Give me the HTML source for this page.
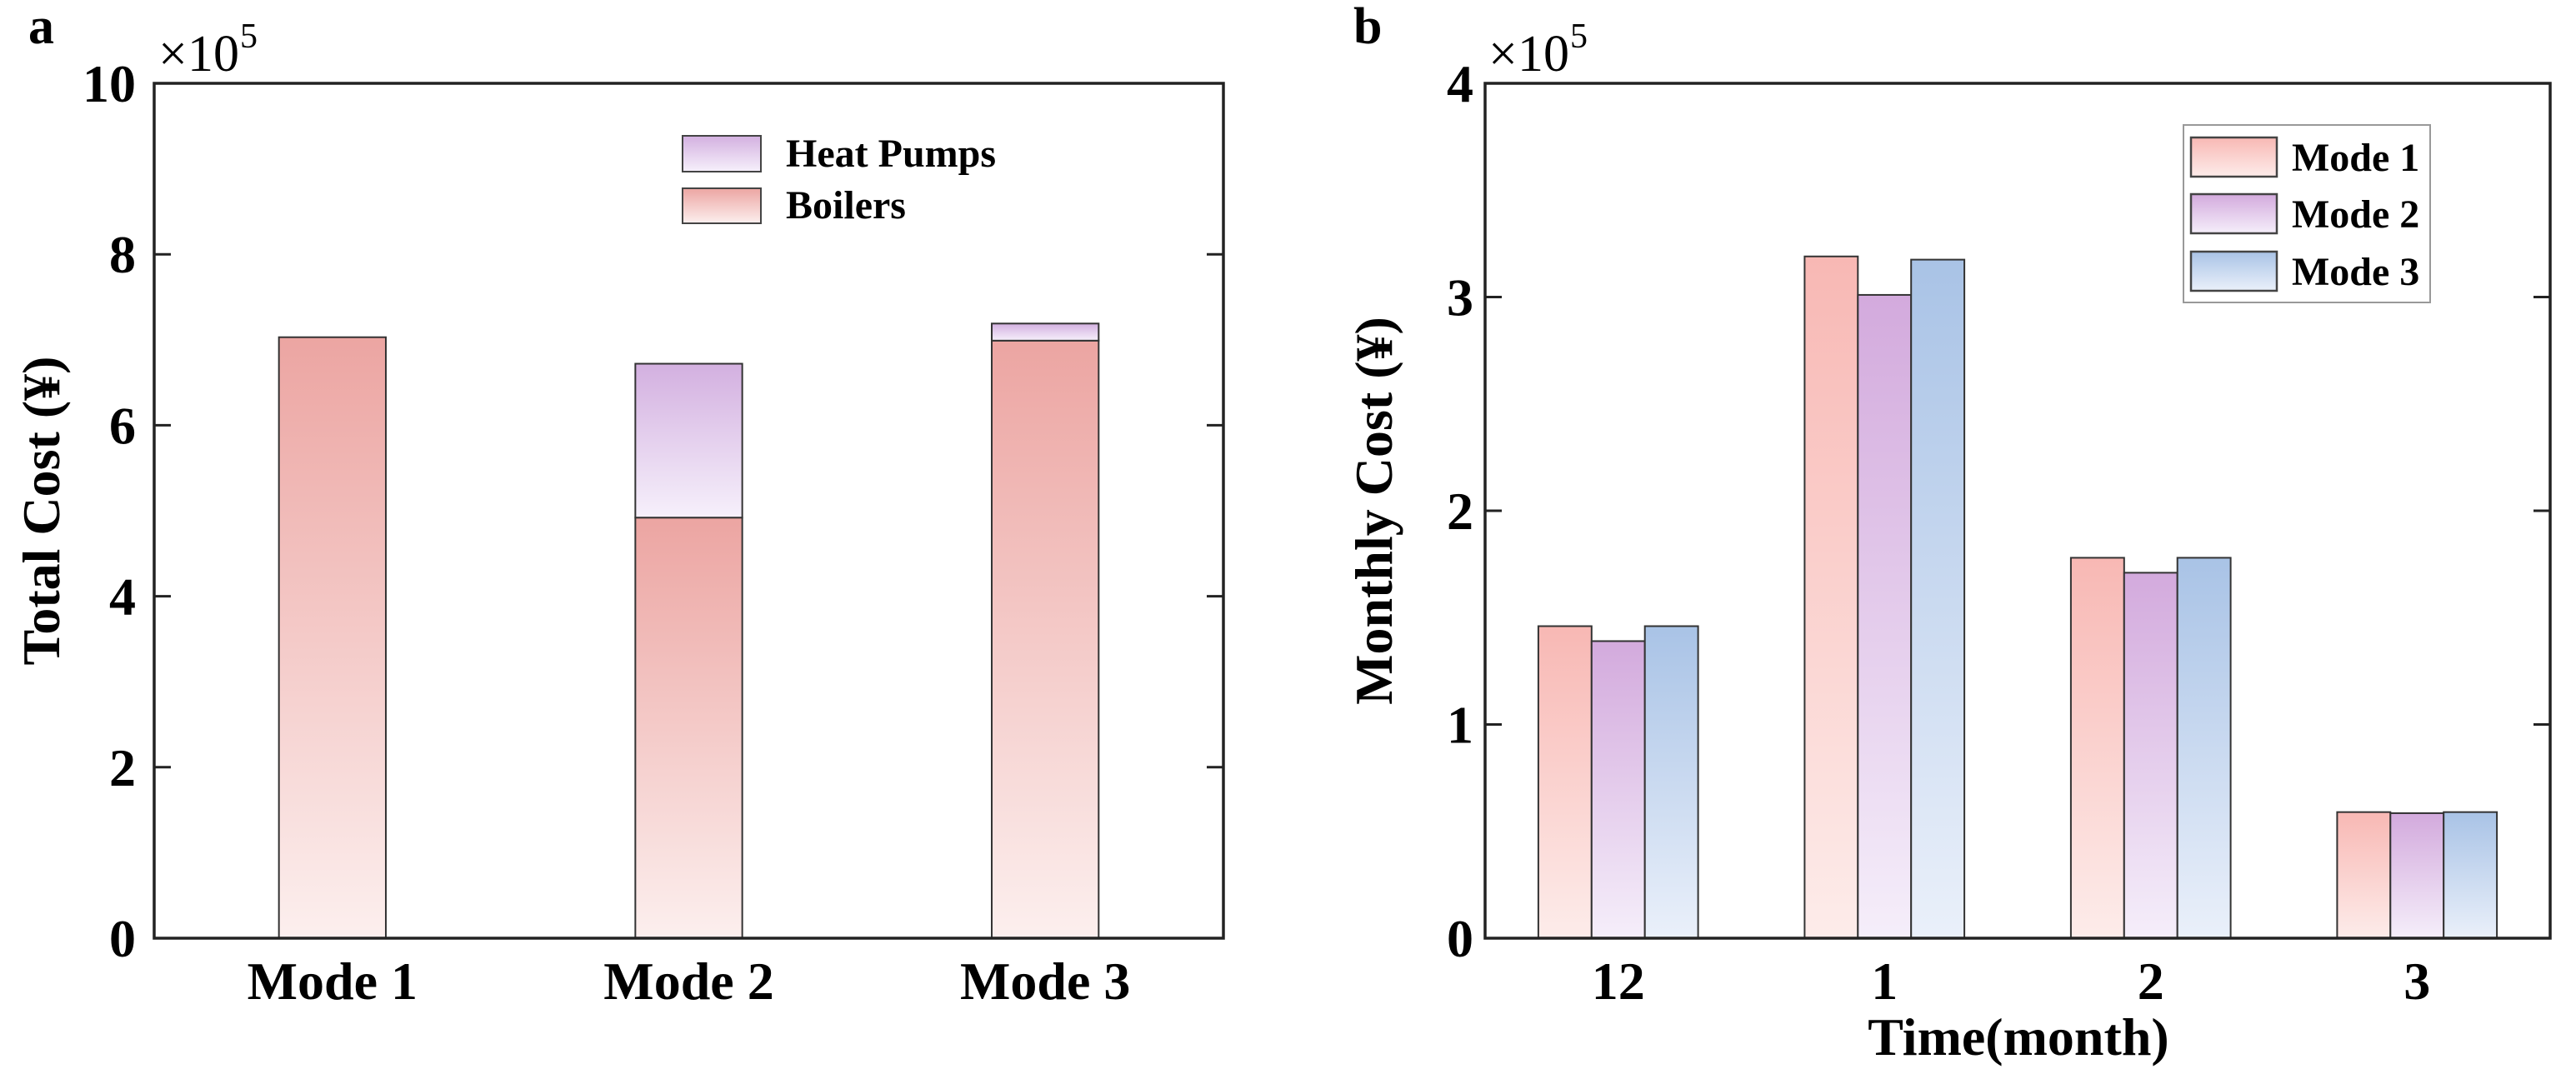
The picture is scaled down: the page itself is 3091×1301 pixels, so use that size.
<!DOCTYPE html>
<html><head><meta charset="utf-8"><style>
html,body{margin:0;padding:0;background:#fff;}
svg{display:block;font-family:"Liberation Serif",serif;}
</style></head><body>
<svg id="chart" width="3091" height="1301" viewBox="0 0 3091 1301" xmlns="http://www.w3.org/2000/svg">
<defs>
<linearGradient id="gPinkA" x1="0" y1="0" x2="0" y2="1"><stop offset="0" stop-color="#eca5a2"/><stop offset="1" stop-color="#fcefee"/></linearGradient>
<linearGradient id="gPurpA" x1="0" y1="0" x2="0" y2="1"><stop offset="0" stop-color="#d3b0e0"/><stop offset="1" stop-color="#f6f0fb"/></linearGradient>
<linearGradient id="gPink" x1="0" y1="0" x2="0" y2="1"><stop offset="0" stop-color="#f8b8b4"/><stop offset="1" stop-color="#fdecea"/></linearGradient>
<linearGradient id="gPurp" x1="0" y1="0" x2="0" y2="1"><stop offset="0" stop-color="#d3aadd"/><stop offset="1" stop-color="#f5eefa"/></linearGradient>
<linearGradient id="gBlue" x1="0" y1="0" x2="0" y2="1"><stop offset="0" stop-color="#a9c3e6"/><stop offset="1" stop-color="#eaf0fa"/></linearGradient>
</defs>
<g id="pa"></g>
<g id="pb"></g>
</svg>
<script>
const modesA = ["Mode 1","Mode 2","Mode 3"];
const boilersA = [7.03, 4.92, 6.99];
const heatPumpsA = [0.0, 1.80, 0.20];
const yTicksA = [0,2,4,6,8,10];

const monthsB = ["12","1","2","3"];
const mode1B = [1.46, 3.19, 1.78, 0.59];
const mode2B = [1.39, 3.01, 1.71, 0.585];
const mode3B = [1.46, 3.175, 1.78, 0.59];
const yTicksB = [0,1,2,3,4];

const NS="http://www.w3.org/2000/svg";
function mk(parent, tag, attrs, text){
  const e=document.createElementNS(NS,tag);
  for(const k in attrs) e.setAttribute(k,attrs[k]);
  if(text!==undefined) e.textContent=text;
  parent.appendChild(e); return e;
}
const T=100, B=1126;

// ---------- Panel a ----------
(function(){
  const g=document.getElementById('pa');
  const L=185, R=1468, ymax=10;
  const y=v=>B-(B-T)*v/ymax;
  const step=(R-L)/modesA.length;
  const cx=i=>L+step*(i+0.5);
  const bw=step*0.3;
  modesA.forEach((m,i)=>{
    const b=mk(g,'rect',{x:cx(i)-bw/2,y:y(boilersA[i]),width:bw,height:B-y(boilersA[i]),fill:'url(#gPinkA)',stroke:'#333','stroke-width':2});
    
    
    if(heatPumpsA[i]>0){
      const tot=boilersA[i]+heatPumpsA[i];
      const h=mk(g,'rect',{x:cx(i)-bw/2,y:y(tot),width:bw,height:y(boilersA[i])-y(tot),fill:'url(#gPurpA)',stroke:'#333','stroke-width':2});
      
      
    }
    const t=mk(g,'text',{x:cx(i),y:1199,'font-size':64,'font-weight':'bold','text-anchor':'middle'},m);
    
    
  });
  yTicksA.forEach(v=>{
    const t=mk(g,'text',{x:163,y:y(v)+22,'font-size':64,'font-weight':'bold','text-anchor':'end'},String(v));
    
    
    if(v>0&&v<ymax){
      mk(g,'line',{x1:L,x2:L+20,y1:y(v),y2:y(v),stroke:'#222','stroke-width':3});
      mk(g,'line',{x1:R-20,x2:R,y1:y(v),y2:y(v),stroke:'#222','stroke-width':3});
    }
  });
  const ax=mk(g,'rect',{x:L,y:T,width:R-L,height:B-T,fill:'none',stroke:'#222','stroke-width':3.5});
  
  
  // legend
  const lg=mk(g,'g',{});
  
  
  mk(lg,'rect',{x:819,y:163,width:94,height:43,fill:'url(#gPurpA)',stroke:'#444','stroke-width':2});
  mk(lg,'text',{x:943,y:200,'font-size':48,'font-weight':'bold'},'Heat Pumps');
  mk(lg,'rect',{x:819,y:226,width:94,height:42,fill:'url(#gPinkA)',stroke:'#444','stroke-width':2});
  mk(lg,'text',{x:943,y:262,'font-size':48,'font-weight':'bold'},'Boilers');
  const yt=mk(g,'text',{x:0,y:0,'font-size':64,'font-weight':'bold','text-anchor':'middle',transform:'translate(71,613) rotate(-90)'},'Total Cost (¥)');
  
  
  const pl=mk(g,'text',{x:34,y:52,'font-size':62,'font-weight':'bold'},'a');
  
  
  const ex=mk(g,'text',{x:190,y:85,'font-size':62},'×10');
  
  
  mk(g,'text',{x:288,y:57,'font-size':42},'5');
})();

// ---------- Panel b ----------
(function(){
  const g=document.getElementById('pb');
  const L=1782, R=3060, ymax=4;
  const y=v=>B-(B-T)*v/ymax;
  const step=(R-L)/monthsB.length;
  const cx=i=>L+step*(i+0.5);
  const bw=step*0.2;
  const series=[[mode1B,'url(#gPink)'],[mode2B,'url(#gPurp)'],[mode3B,'url(#gBlue)']];
  monthsB.forEach((m,i)=>{
    series.forEach((s,j)=>{
      const v=s[0][i];
      const r=mk(g,'rect',{x:cx(i)+(j-1.5)*bw,y:y(v),width:bw,height:B-y(v),fill:s[1],stroke:'#333','stroke-width':2});
      
      
    });
    const t=mk(g,'text',{x:cx(i),y:1199,'font-size':64,'font-weight':'bold','text-anchor':'middle'},m);
    
    
  });
  yTicksB.forEach(v=>{
    const t=mk(g,'text',{x:1768,y:y(v)+22,'font-size':64,'font-weight':'bold','text-anchor':'end'},String(v));
    
    
    if(v>0&&v<ymax){
      mk(g,'line',{x1:L,x2:L+20,y1:y(v),y2:y(v),stroke:'#222','stroke-width':3});
      mk(g,'line',{x1:R-20,x2:R,y1:y(v),y2:y(v),stroke:'#222','stroke-width':3});
    }
  });
  const ax=mk(g,'rect',{x:L,y:T,width:R-L,height:B-T,fill:'none',stroke:'#222','stroke-width':3.5});
  
  
  const lg=mk(g,'g',{});
  
  
  mk(lg,'rect',{x:2620,y:150,width:296,height:213,fill:'#fff',stroke:'#999','stroke-width':2});
  const names=['Mode 1','Mode 2','Mode 3'];
  const fills=['url(#gPink)','url(#gPurp)','url(#gBlue)'];
  [165,233,302].forEach((yy,k)=>{
    mk(lg,'rect',{x:2629,y:yy,width:103,height:47,fill:fills[k],stroke:'#444','stroke-width':2.5});
    mk(lg,'text',{x:2750,y:yy+40,'font-size':48,'font-weight':'bold'},names[k]);
  });
  const yt=mk(g,'text',{x:0,y:0,'font-size':64,'font-weight':'bold','text-anchor':'middle',transform:'translate(1670,613) rotate(-90)'},'Monthly Cost (¥)');
  
  
  const xt=mk(g,'text',{x:2422,y:1266,'font-size':64,'font-weight':'bold','text-anchor':'middle'},'Time(month)');
  
  
  const pl=mk(g,'text',{x:1624,y:52,'font-size':62,'font-weight':'bold'},'b');
  
  
  const ex=mk(g,'text',{x:1786,y:85,'font-size':62},'×10');
  
  
  mk(g,'text',{x:1884,y:57,'font-size':42},'5');
})();
</script>
</body></html>
